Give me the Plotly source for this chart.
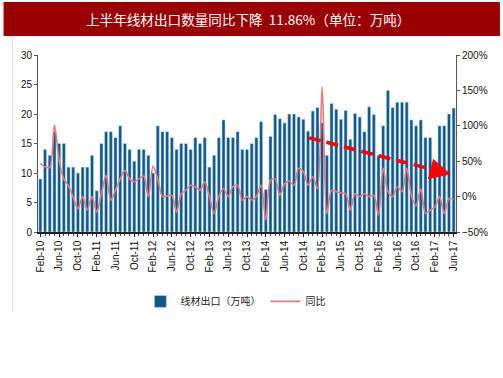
import pandas as pd
import plotly.graph_objects as go

# Month categories Feb-2010 .. Jun-2017
months = [d.strftime("%b-%y") for d in pd.date_range("2010-02-01", "2017-06-01", freq="MS")]

# Wire rod exports (10k tonnes)
exports = [
    9, 14, 13, 17, 15, 15, 11, 11, 10, 11, 11, 13,
    7, 15, 17, 17, 16, 18, 15, 14, 12, 14, 14, 13,
    10, 18, 17, 17, 16, 14, 15, 15, 14, 16, 15, 16,
    11, 13, 16, 19, 16, 16, 17, 14, 14, 15, 16, 18.7,
    7.2, 16.2, 19.9, 19.2, 18.5, 20, 20, 19.5, 19.1, 17.1, 20.5, 21.1,
    18.5, 13, 21.8, 20.8, 19.1, 20.6, 15.7, 20.1, 19.5, 17, 21.2, 19.9,
    13, 18, 24, 21.1, 22, 22, 22, 19, 18, 19, 16, 16,
    11, 18, 18, 20, 21,
]

# Year-on-year change (%)
yoy = [
    47, 42, 41, 101, 51, 25, 15, -1, -17, 0, -19, 0,
    -22, 4, 30, -5, 9, 25, 37, 25, 21, 25, 29, 0,
    43, 25, 0, 1, 2, -22, 4, 9, 16, 14, 9, 21,
    0, -24, 0, 11, 0, 14, 16, -5, 0, -5, 0, 16,
    -33, 23, 25, 2, 18, 22, 16, 40, 35, 16, 28, 11,
    155, -24, 9, 7, 5, 4, -19, 4, 0, 4, 0, 2,
    -26, 40, 7, 0, 14, 7, 40, 2, -13, 11, -24, -19,
    -15, 0, -24, -3, -4,
]

tick_labels = months[::4]
idx = list(range(len(months)))
tick_pos = idx[::4]

# Trend arrow (data units: month index, yoy %)
trend_start = (57.2, 83)
trend_end = (87.4, 31.6)

title_text = "上半年线材出口数量同比下降  11.86%（单位：万吨）"

BAR = "#0F5A8C"
LINE = "#EA7A7D"
FONT = "Liberation Sans, Arial, sans-serif"
CJK = "Noto Sans CJK SC, sans-serif"

PL, PR, PT, PB = 37.5, 456.0, 55.0, 231.7  # plot area in pixels
PW, PH = PR - PL, PB - PT


def px(x):
    return (x - PL) / PW


def py(y):
    return (PB - y) / PH


fig = go.Figure()
fig.add_trace(go.Bar(
    x=idx, y=exports, name="线材出口（万吨）",
    marker=dict(color=BAR, line=dict(color="#cfe0ee", width=0.5)),
    yaxis="y",
))
fig.add_trace(go.Scatter(
    x=idx, y=yoy, name="同比", mode="lines",
    line=dict(color=LINE, width=1.6, shape="spline", smoothing=0.8),
    yaxis="y2",
))

fig.update_layout(
    width=503, height=378,
    margin=dict(l=PL, r=503 - PR, t=PT, b=378 - PB),
    paper_bgcolor="white", plot_bgcolor="white",
    bargap=0.34,
    showlegend=True,
    legend=dict(orientation="h", x=px(140), xanchor="left", y=py(301), yanchor="middle",
                font=dict(family=CJK, size=10, color="#222"),
                itemwidth=30, traceorder="normal", tracegroupgap=0),
    xaxis=dict(
        range=[-0.5, len(months) - 0.5],
        tickmode="array", tickvals=tick_pos, ticktext=tick_labels,
        tickangle=-90, tickfont=dict(family=FONT, size=10, color="#111"),
        showline=True, linecolor="#222", linewidth=1.5,
        ticks="outside", ticklen=3, tickcolor="#222",
        minor=dict(dtick=1, ticks="outside", ticklen=2, tickcolor="#444"),
        showgrid=False, zeroline=False,
    ),
    yaxis=dict(
        range=[0, 30], dtick=5,
        tickfont=dict(family=FONT, size=10, color="#111"),
        showline=True, linecolor="#555", linewidth=1,
        ticks="outside", ticklen=3, tickcolor="#555",
        showgrid=False, zeroline=False,
    ),
    yaxis2=dict(
        range=[-50, 200], dtick=50, ticksuffix="%",
        overlaying="y", side="right",
        tickfont=dict(family=FONT, size=10, color="#111"),
        showline=True, linecolor="#555", linewidth=1,
        ticks="outside", ticklen=3, tickcolor="#555",
        showgrid=False, zeroline=False,
    ),
)

# Title banner
fig.add_shape(type="rect", xref="paper", yref="paper",
              x0=px(3), x1=px(500), y0=py(36), y1=py(2),
              fillcolor="#9B0000", line=dict(width=0))
fig.add_annotation(xref="paper", yref="paper",
                   x=px(248), y=py(19), xanchor="center", yanchor="middle",
                   text=title_text, showarrow=False,
                   font=dict(family=CJK, size=13.6, color="white"))
# faint frame line on left
fig.add_shape(type="line", xref="paper", yref="paper",
              x0=px(12), x1=px(12), y0=py(312), y1=py(36),
              line=dict(color="#e2e2e2", width=1))

# Dashed trend arrow
fig.add_shape(type="line", xref="x", yref="y2",
              x0=trend_start[0], y0=trend_start[1],
              x1=trend_end[0] - 2.2, y1=trend_end[1] + 3.8,
              line=dict(color="#FF0000", width=3.5, dash="12px,6px"))
fig.add_annotation(xref="x", yref="y2", axref="x", ayref="y2",
                   x=trend_end[0], y=trend_end[1],
                   ax=trend_end[0] - 3.5, ay=trend_end[1] + 6,
                   text="", showarrow=True, arrowhead=2, arrowsize=1.2,
                   arrowwidth=3.5, arrowcolor="#FF0000")

fig.write_html("out.html", config={"displayModeBar": False},
               post_script="document.body.style.margin='0px';document.body.style.padding='0px';")
